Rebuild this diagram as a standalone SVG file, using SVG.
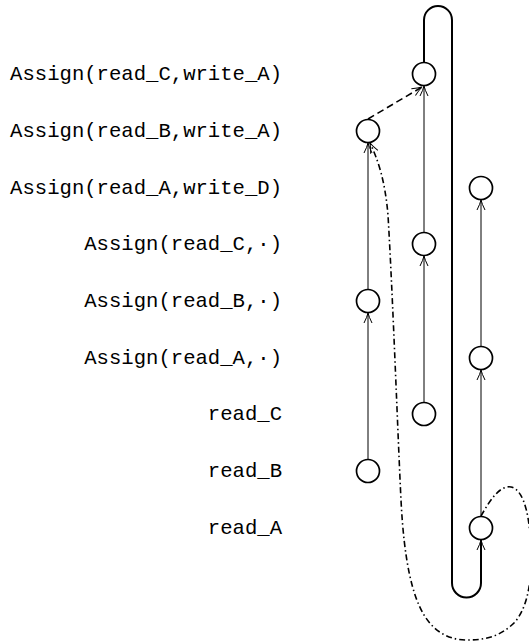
<svg xmlns="http://www.w3.org/2000/svg" width="529" height="641" viewBox="0 0 529 641">
  <style>
    .lbl { font-family: "Liberation Mono", "DejaVu Sans Mono", monospace; font-size: 20.6px; fill: #000; text-anchor: end; }
    .node { fill: #fff; stroke: #000; stroke-width: 1.7; }
    .thin { fill: none; stroke: #000; stroke-width: 1; }
    .thick { fill: none; stroke: #000; stroke-width: 2; }
    .dash { fill: none; stroke: #000; stroke-width: 1.6; stroke-dasharray: 7 4; }
    .dashdot { fill: none; stroke: #000; stroke-width: 1.6; stroke-dasharray: 6 3 1.5 3; }
  </style>
  <defs>
    <marker id="tip" markerUnits="userSpaceOnUse" markerWidth="14" markerHeight="12" viewBox="-12 -6 14 12" refX="0" refY="0" orient="auto">
      <path d="M -10,-4 Q -4,-1 0,0 Q -4,1 -10,4" fill="none" stroke="#000" stroke-width="1"/>
    </marker>
  </defs>

  <!-- row labels -->
  <g id="labels">
    <text class="lbl" x="282" y="80">Assign(read_C,write_A)</text>
    <text class="lbl" x="282" y="137">Assign(read_B,write_A)</text>
    <text class="lbl" x="282" y="194">Assign(read_A,write_D)</text>
    <text class="lbl" x="282" y="250">Assign(read_C,·)</text>
    <text class="lbl" x="282" y="307">Assign(read_B,·)</text>
    <text class="lbl" x="282" y="364">Assign(read_A,·)</text>
    <text class="lbl" x="282" y="420">read_C</text>
    <text class="lbl" x="282" y="477">read_B</text>
    <text class="lbl" x="282" y="534">read_A</text>
  </g>

  <!-- connectors -->
  <g id="connectors">
    <!-- column 1 -->
    <line class="thin" x1="368" y1="460" x2="368" y2="313" marker-end="url(#tip)"/>
    <line class="thin" x1="368" y1="289" x2="368" y2="143" marker-end="url(#tip)"/>
    <!-- column 2 -->
    <line class="thin" x1="424" y1="402" x2="424" y2="256" marker-end="url(#tip)"/>
    <line class="thin" x1="424" y1="232" x2="424" y2="86" marker-end="url(#tip)"/>
    <!-- column 3 -->
    <line class="thin" x1="481" y1="516" x2="481" y2="370" marker-end="url(#tip)"/>
    <line class="thin" x1="481" y1="346" x2="481" y2="200" marker-end="url(#tip)"/>
    <!-- thick loop -->
    <path class="thick" d="M 424,62 L 424,20 A 14,14 0 0 1 452,20 L 452,583 A 14.5,14.5 0 0 0 481,583 L 481,540" marker-end="url(#tip)"/>
    <!-- dashed edge -->
    <path class="dash" d="M 368,119 L 422,87" marker-end="url(#tip)"/>
    <!-- dash-dot curve -->
    <path class="dashdot" d="M 481,516 C 490,500 500,485 511,487 C 525,490 531,520 531,560 C 531,590 525,610 515,622 C 500,637 485,640 467,640 C 445,640 432,628 424,615 C 412,595 404,560 401,500 C 398,440 393,300 388,215 C 385,180 378,160 370,143" marker-end="url(#tip)"/>
  </g>

  <!-- nodes -->
  <g id="n-c-wa"><circle class="node" cx="424" cy="74" r="11.5"/></g>
  <g id="n-b-wa"><circle class="node" cx="368" cy="131" r="11.5"/></g>
  <g id="n-a-wd"><circle class="node" cx="481" cy="188" r="11.5"/></g>
  <g id="n-c"><circle class="node" cx="424" cy="244" r="11.5"/></g>
  <g id="n-b"><circle class="node" cx="368" cy="301" r="11.5"/></g>
  <g id="n-a"><circle class="node" cx="481" cy="358" r="11.5"/></g>
  <g id="n-read-c"><circle class="node" cx="424" cy="414" r="11.5"/></g>
  <g id="n-read-b"><circle class="node" cx="368" cy="471" r="11.5"/></g>
  <g id="n-read-a"><circle class="node" cx="481" cy="528" r="11.5"/></g>
</svg>
